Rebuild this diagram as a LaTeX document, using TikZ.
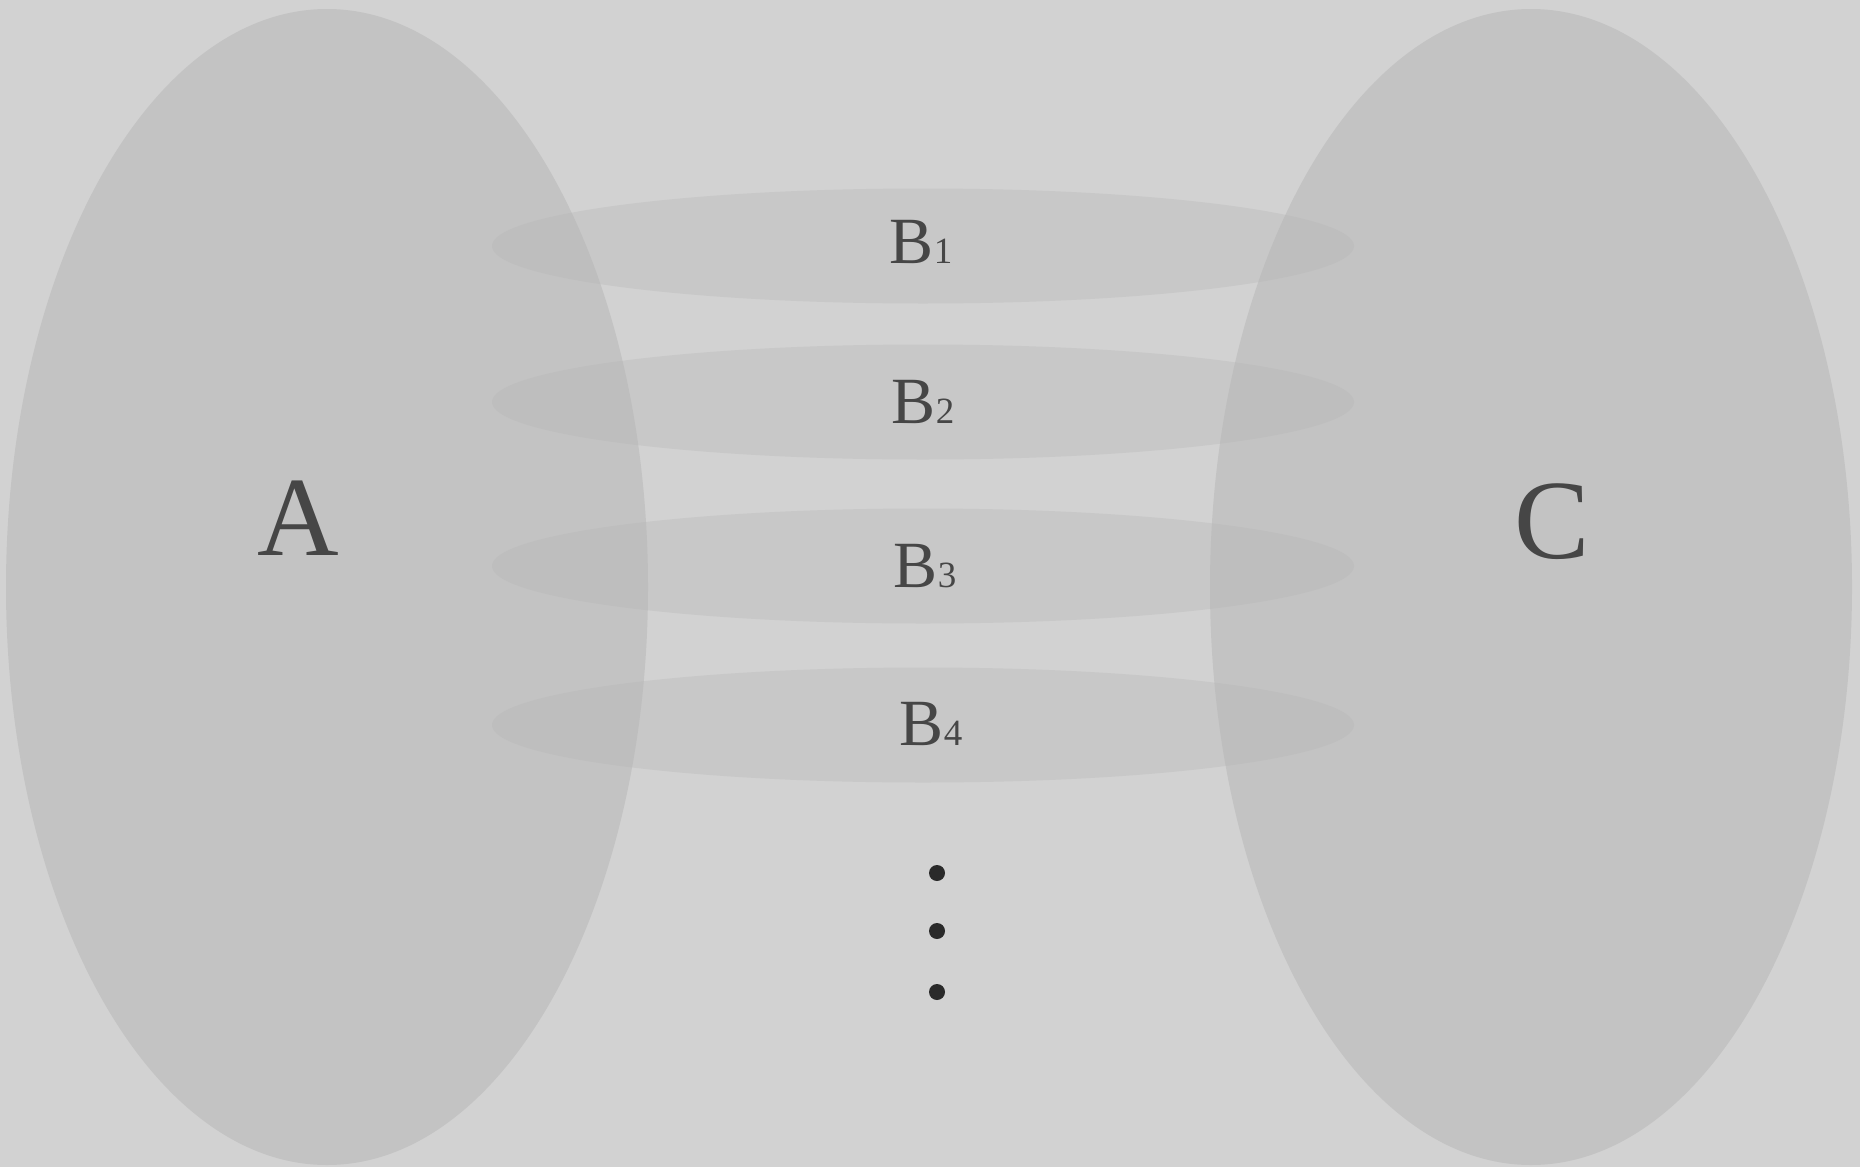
\documentclass[tikz,border=0pt]{standalone}
\usepackage{fontspec}
\setmainfont{Liberation Serif}
\usetikzlibrary{shapes.geometric}
\definecolor{bgcol}{RGB}{210,210,210}
\definecolor{setcol}{RGB}{195,195,195}
\definecolor{bandcol}{RGB}{180,180,180}
\definecolor{inkcol}{RGB}{70,70,70}
\definecolor{dotcol}{RGB}{42,42,42}
\tikzset{
  bigset/.style={ellipse, fill=setcol, inner sep=0pt, minimum width=642pt, minimum height=1156pt},
  band/.style={ellipse, fill=bandcol, fill opacity=0.33, inner sep=0pt, minimum width=862pt, minimum height=115pt},
  biglabel/.style={anchor=base, inner sep=0pt, text=inkcol, font=\fontsize{113}{115}\selectfont},
  bandlabel/.style={anchor=base, inner sep=0pt, text=inkcol, font=\fontsize{66}{68}\selectfont},
  vdot/.style={circle, fill=dotcol, inner sep=0pt, minimum size=16pt}
}
\newcommand{\idx}[1]{{\fontsize{37}{40}\selectfont #1}}
\begin{document}
\begin{tikzpicture}[x=1pt, y=-1pt]
  \fill[bgcol] (0,0) rectangle (1860,1167);
  \useasboundingbox (0,0) rectangle (1860,1167);
  % the two large sets
  \node[bigset] (A) at (327,587) {};
  \node[bigset] (C) at (1531,587) {};
  % the bands between them
  \node[band] (b1) at (923,246) {};
  \node[band] (b2) at (923,402) {};
  \node[band] (b3) at (923,566) {};
  \node[band] (b4) at (923,725) {};
  % labels
  \node[biglabel] (lA) at (298,555) {A};
  \node[biglabel] (lC) at (1552,558) {C};
  \node[bandlabel] (l1) at (921,263) {B\idx{1}};
  \node[bandlabel] (l2) at (923,423) {B\idx{2}};
  \node[bandlabel] (l3) at (925,587) {B\idx{3}};
  \node[bandlabel] (l4) at (931,745) {B\idx{4}};
  % continuation dots
  \node[vdot] (d1) at (937,873) {};
  \node[vdot] (d2) at (937,931) {};
  \node[vdot] (d3) at (937,992) {};
\end{tikzpicture}
\end{document}
